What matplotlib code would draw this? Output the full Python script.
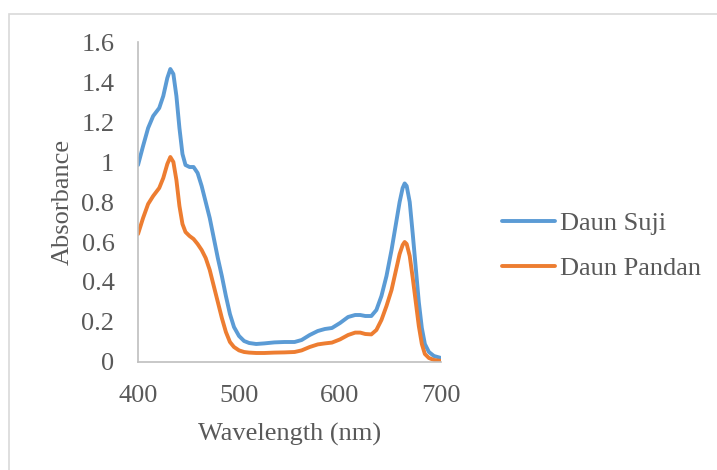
import matplotlib
matplotlib.use('Agg')
import matplotlib.pyplot as plt
from matplotlib.patches import Rectangle
from matplotlib.ticker import FuncFormatter, MultipleLocator

# wavelength (nm)
wavelength = [400, 405, 410, 415, 418, 421, 425, 429, 432, 435, 438, 441, 444, 447,
              451, 455, 459, 463, 467, 471, 475, 479, 483, 487, 491, 495, 500, 505,
              510, 517, 525, 535, 545, 555, 562, 570, 578, 585, 592, 600, 608, 615,
              620, 625, 631, 636, 641, 646, 651, 655, 659, 662, 664, 666, 669, 672,
              675, 678, 681, 684, 688, 693, 700]

daun_suji = [0.985, 1.08, 1.17, 1.23, 1.25, 1.27, 1.33, 1.42, 1.465, 1.44, 1.33, 1.17,
             1.04, 0.985, 0.975, 0.975, 0.945, 0.88, 0.80, 0.72, 0.62, 0.52, 0.43, 0.33,
             0.24, 0.175, 0.13, 0.105, 0.095, 0.09, 0.093, 0.098, 0.10, 0.10, 0.11,
             0.135, 0.155, 0.165, 0.17, 0.195, 0.225, 0.235, 0.235, 0.23, 0.23, 0.26,
             0.33, 0.43, 0.56, 0.68, 0.80, 0.87, 0.893, 0.88, 0.80, 0.64, 0.47, 0.30,
             0.17, 0.09, 0.05, 0.03, 0.02]

daun_pandan = [0.64, 0.72, 0.79, 0.83, 0.85, 0.87, 0.92, 0.99, 1.025, 1.0, 0.91, 0.78,
               0.69, 0.65, 0.63, 0.615, 0.59, 0.56, 0.52, 0.46, 0.38, 0.30, 0.22, 0.15,
               0.10, 0.075, 0.058, 0.05, 0.047, 0.045, 0.045, 0.047, 0.048, 0.05, 0.058,
               0.075, 0.088, 0.093, 0.097, 0.113, 0.135, 0.147, 0.147, 0.14, 0.138, 0.16,
               0.21, 0.28, 0.36, 0.45, 0.54, 0.585, 0.60, 0.59, 0.53, 0.42, 0.30, 0.18,
               0.09, 0.04, 0.02, 0.01, 0.005]

plt.rcParams['font.family'] = ['Liberation Serif', 'DejaVu Serif']
grey = '#595959'
fs = 19

fig = plt.figure(figsize=(7.17, 4.70), dpi=100)
ax = fig.add_axes([0.1925, 0.2298, 0.4226, 0.6808])

ax.plot(wavelength, daun_suji, color='#5B9BD5', lw=2.8, label='Daun Suji',
        solid_capstyle='round', solid_joinstyle='round')
ax.plot(wavelength, daun_pandan, color='#ED7D31', lw=2.8, label='Daun Pandan',
        solid_capstyle='round', solid_joinstyle='round')

ax.set_xlim(400, 700)
ax.set_ylim(0, 1.6)
ax.xaxis.set_major_locator(MultipleLocator(100))
ax.yaxis.set_major_locator(MultipleLocator(0.2))
ax.yaxis.set_major_formatter(FuncFormatter(lambda v, p: '%g' % round(v, 2)))
ax.tick_params(length=0, labelsize=fs, colors=grey)
ax.tick_params(axis='y', pad=17)
ax.tick_params(axis='x', pad=16.5)

for s in ['top', 'right']:
    ax.spines[s].set_visible(False)
for s in ['left', 'bottom']:
    ax.spines[s].set_color('#BFBFBF')
    ax.spines[s].set_linewidth(1.2)

ax.set_xlabel('Wavelength (nm)', fontsize=fs, color=grey, labelpad=11.5)
ax.set_ylabel('Absorbance', fontsize=fs, color=grey, labelpad=5.5)

fig.legend(loc='center left', bbox_to_anchor=(0.700, 0.4766), frameon=False,
           fontsize=fs, handlelength=2.0, handletextpad=0.2, labelspacing=0.82,
           borderpad=0, borderaxespad=0, labelcolor=grey)

fig.patches.append(Rectangle((9 / 717, -0.01), 1.0, 1 - 14 / 470 + 0.01,
                             transform=fig.transFigure, fill=False,
                             edgecolor='#D9D9D9', lw=1.2))

fig.savefig('out.png', dpi=100)
